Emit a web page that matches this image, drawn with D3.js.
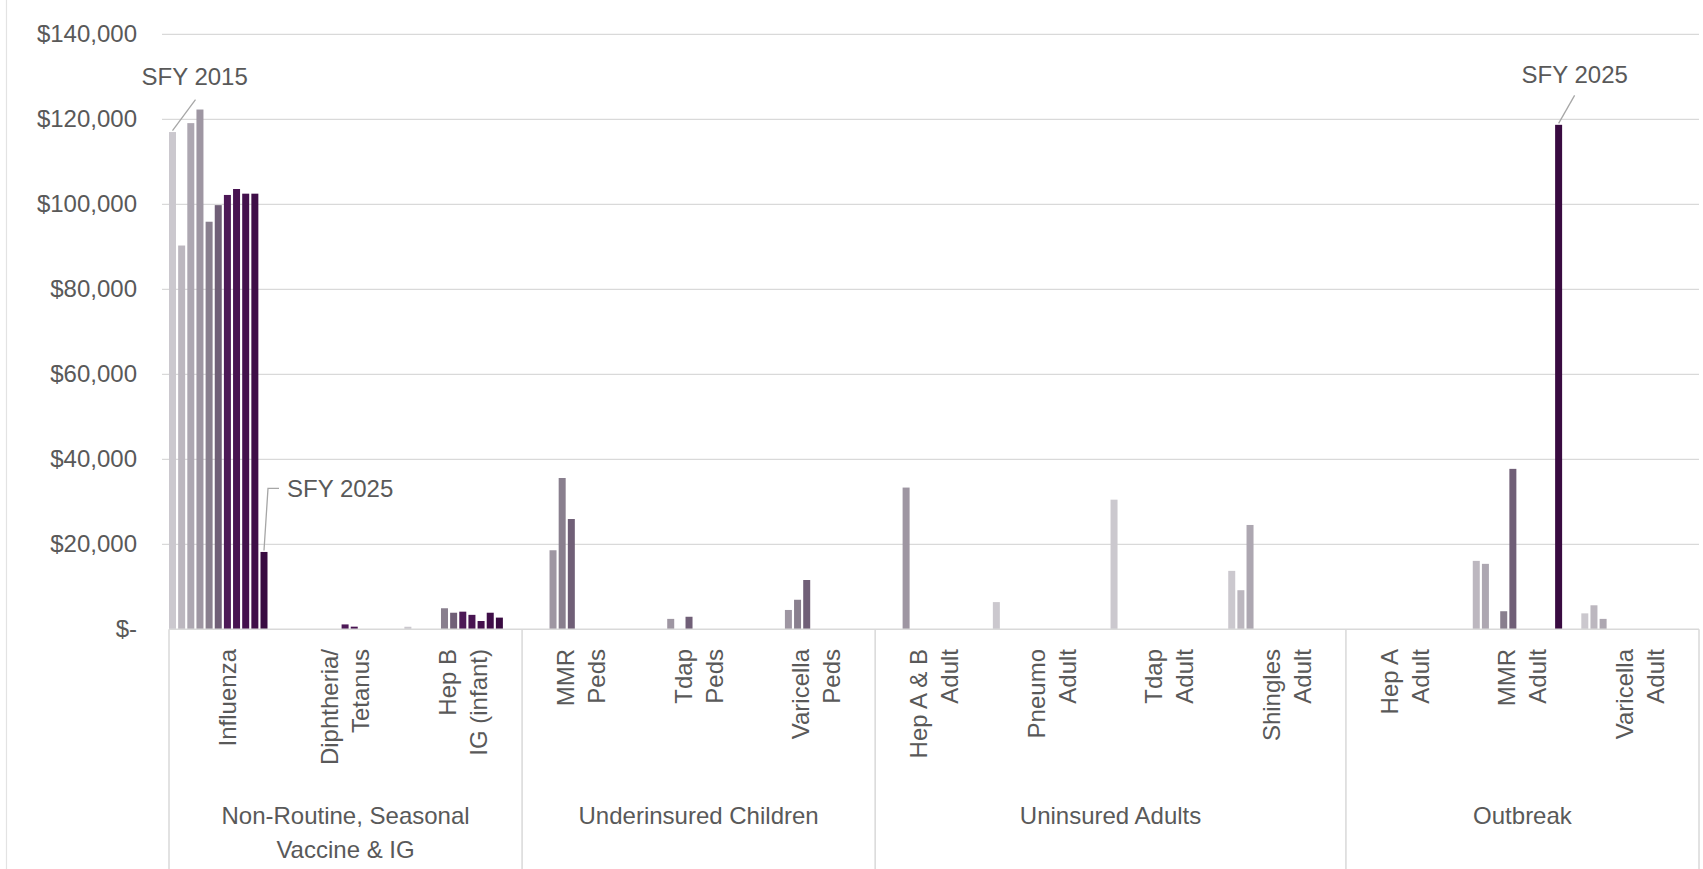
<!DOCTYPE html>
<html>
<head>
<meta charset="utf-8">
<script src="https://cdn.jsdelivr.net/npm/d3@7"></script>
<style>
  html, body { margin: 0; padding: 0; background: #fff; }
  svg { display: block; }
  text { font-family: "Liberation Sans", Arial, sans-serif; fill: #595959; }
</style>
</head>
<body>
<svg id="chart" width="1703" height="869"></svg>
<script>
// ---- Data ----------------------------------------------------------------
const years = ["SFY 2015", "SFY 2016", "SFY 2017", "SFY 2018", "SFY 2019", "SFY 2020",
               "SFY 2021", "SFY 2022", "SFY 2023", "SFY 2024", "SFY 2025"];

// Vaccine categories (label lines as shown under the axis)
const categoryLines = [
  ["Influenza"], ["Diphtheria/", "Tetanus"], ["Hep B", "IG (infant)"],
  ["MMR", "Peds"], ["Tdap", "Peds"], ["Varicella", "Peds"],
  ["Hep A & B", "Adult"], ["Pneumo", "Adult"], ["Tdap", "Adult"], ["Shingles", "Adult"],
  ["Hep A", "Adult"], ["MMR", "Adult"], ["Varicella", "Adult"]
];
const categories = categoryLines.map(l => l.join(" "));

// Program groups and how many vaccine categories each spans
const groupLines = [["Non-Routine, Seasonal", "Vaccine & IG"], ["Underinsured Children"],
                    ["Uninsured Adults"], ["Outbreak"]];
const groupSizes = [3, 3, 4, 3];

// Spending per vaccine, SFY 2015 .. SFY 2025 (0 = nothing spent)
const influenza         = [117000, 90300, 119100, 122300, 95900, 99800, 102200, 103600, 102500, 102500, 18200];
const diphtheriaTetanus = [0, 0, 0, 0, 0, 0, 1150, 620, 0, 0, 0];
const hepBInfantIG      = [600, 0, 0, 0, 4950, 3900, 4150, 3400, 1950, 3900, 2750];
const mmrPeds           = [0, 0, 0, 18600, 35600, 25950, 0, 0, 0, 0, 0];
const tdapPeds          = [0, 0, 0, 2450, 0, 2950, 0, 0, 0, 0, 0];
const varicellaPeds     = [0, 0, 0, 4550, 6950, 11600, 0, 0, 0, 0, 0];
const hepABAdult        = [0, 0, 0, 33350, 0, 0, 0, 0, 0, 0, 0];
const pneumoAdult       = [6400, 0, 0, 0, 0, 0, 0, 0, 0, 0, 0];
const tdapAdult         = [30500, 0, 0, 0, 0, 0, 0, 0, 0, 0, 0];
const shinglesAdult     = [13750, 9200, 24550, 0, 0, 0, 0, 0, 0, 0, 0];
const hepAAdult         = [0, 0, 0, 0, 0, 0, 0, 0, 0, 0, 0];
const mmrAdult          = [0, 16100, 15400, 0, 4250, 37750, 0, 0, 0, 0, 118700];
const varicellaAdult    = [3750, 5650, 2450, 0, 0, 0, 0, 0, 0, 0, 0];

const seriesByCategory = [influenza, diphtheriaTetanus, hepBInfantIG, mmrPeds, tdapPeds,
  varicellaPeds, hepABAdult, pneumoAdult, tdapAdult, shinglesAdult, hepAAdult, mmrAdult, varicellaAdult];

const yTicks = [0, 20000, 40000, 60000, 80000, 100000, 120000, 140000];

// Year shading: light grey for early years through deep purple for recent ones
const yearColors = ["#cbc8ce", "#bcb7bf", "#ada7b1", "#9e96a2", "#897f8e", "#705f77",
                    "#4d1957", "#481451", "#43104c", "#3f0e48", "#390b41"];

// Callouts on individual bars
const callouts = [
  { category: "Influenza", year: "SFY 2015", text: "SFY 2015", kind: "slant",  tx: -31, ty: -46, lx: 23, ly: -31 },
  { category: "Influenza", year: "SFY 2025", text: "SFY 2025", kind: "elbow",  tx: 23,  ty: -53, lx: 4,  ly: -62 },
  { category: "MMR Adult", year: "SFY 2025", text: "SFY 2025", kind: "slant",  tx: -37, ty: -40, lx: 16, ly: -28 }
];

// ---- Layout --------------------------------------------------------------
const W = 1703, H = 869;
const plotL = 169, plotR = 1699, baseY = 629.3, topY = 34.3;
const pitch = 9.15, barW = 7;
const textColor = "#595959", gridColor = "#d9d9d9";

const svg = d3.select("#chart");
svg.append("rect").attr("width", W).attr("height", H).attr("fill", "#fff");

// faint chart-area border on the left edge
svg.append("line").attr("x1", 6.5).attr("x2", 6.5).attr("y1", 0).attr("y2", H)
  .attr("stroke", "#e3e3e3").attr("stroke-width", 1.2);

const y = d3.scaleLinear().domain([0, 140000]).range([baseY, topY]);
const x0 = d3.scaleBand().domain(categories).range([plotL, plotR]).paddingInner(0).paddingOuter(0);
const inset = (pitch - barW) / 2;
const x1 = d3.scaleBand().domain(years)
  .range([-inset, years.length * pitch - inset])
  .paddingInner((pitch - barW) / pitch)
  .paddingOuter((pitch - barW) / pitch / 2);

// Gridlines
svg.append("g").selectAll("line").data(yTicks.filter(d => d > 0)).join("line")
  .attr("x1", 162).attr("x2", plotR)
  .attr("y1", d => y(d)).attr("y2", d => y(d))
  .attr("stroke", gridColor).attr("stroke-width", 1.3);

// Y axis labels
const yAxis = d3.axisLeft(y).tickValues(yTicks).tickSize(0).tickPadding(32)
  .tickFormat(d => d === 0 ? "$-" : "$" + d3.format(",")(d));
const gy = svg.append("g").attr("transform", `translate(${plotL},0)`).call(yAxis);
gy.select(".domain").remove();
gy.selectAll("text").attr("font-size", 24).attr("fill", textColor)
  .style("font-family", '"Liberation Sans", Arial, sans-serif');

// Bars
const bars = [];
categories.forEach((c, ci) => {
  seriesByCategory[ci].forEach((v, yi) => {
    if (v > 0) bars.push({ category: c, year: years[yi], yi, value: v });
  });
});
svg.append("g").selectAll("rect").data(bars).join("rect")
  .attr("x", d => x0(d.category) + x1(d.year))
  .attr("y", d => y(d.value))
  .attr("width", x1.bandwidth())
  .attr("height", d => baseY - y(d.value))
  .attr("fill", d => yearColors[d.yi]);

// Category axis baseline and group separators
svg.append("line").attr("x1", plotL).attr("x2", plotR).attr("y1", baseY).attr("y2", baseY)
  .attr("stroke", gridColor).attr("stroke-width", 1.5);

let acc = 0;
const groupBounds = groupSizes.map(n => {
  const start = acc; acc += n;
  return { start, end: acc };
});
const sepIdx = [0].concat(groupBounds.map(g => g.end));
svg.append("g").selectAll("line").data(sepIdx).join("line")
  .attr("x1", i => i < categories.length ? x0(categories[i]) : plotR)
  .attr("x2", i => i < categories.length ? x0(categories[i]) : plotR)
  .attr("y1", baseY).attr("y2", H)
  .attr("stroke", gridColor).attr("stroke-width", 1.5);

// Rotated vaccine labels
const lineGap = 31;
const catG = svg.append("g");
categoryLines.forEach((lines, ci) => {
  const cx = x0(categories[ci]) + x0.bandwidth() / 2;
  lines.forEach((t, li) => {
    const lx = cx + (li - (lines.length - 1) / 2) * lineGap;
    catG.append("text")
      .attr("transform", `translate(${lx},649) rotate(-90)`)
      .attr("text-anchor", "end")
      .attr("dy", "0.35em")
      .attr("font-size", 24)
      .text(t);
  });
});

// Group labels
const grpG = svg.append("g");
groupLines.forEach((lines, gi) => {
  const b = groupBounds[gi];
  const xs = x0(categories[b.start]);
  const xe = b.end < categories.length ? x0(categories[b.end]) : plotR;
  lines.forEach((t, li) => {
    grpG.append("text")
      .attr("x", (xs + xe) / 2).attr("y", 816 + li * 34)
      .attr("text-anchor", "middle").attr("dy", "0.35em")
      .attr("font-size", 24)
      .text(t);
  });
});

// Callouts
const calG = svg.append("g");
callouts.forEach(c => {
  const ci = categories.indexOf(c.category);
  const yi = years.indexOf(c.year);
  const v = seriesByCategory[ci][yi];
  const bx = x0(c.category) + x1(c.year) + x1.bandwidth() / 2;
  const by = y(v) - 1.5;
  if (c.kind === "slant") {
    calG.append("line").attr("x1", bx).attr("y1", by).attr("x2", bx + c.lx).attr("y2", by + c.ly)
      .attr("stroke", "#a6a6a6").attr("stroke-width", 1.3);
  } else {
    calG.append("polyline")
      .attr("points", `${bx},${by} ${bx + c.lx},${by + c.ly} ${bx + c.lx + 11},${by + c.ly}`)
      .attr("fill", "none").attr("stroke", "#a6a6a6").attr("stroke-width", 1.3);
  }
  calG.append("text")
    .attr("x", bx + c.tx).attr("y", by + c.ty)
    .attr("font-size", 24)
    .text(c.text);
});
</script>
</body>
</html>
